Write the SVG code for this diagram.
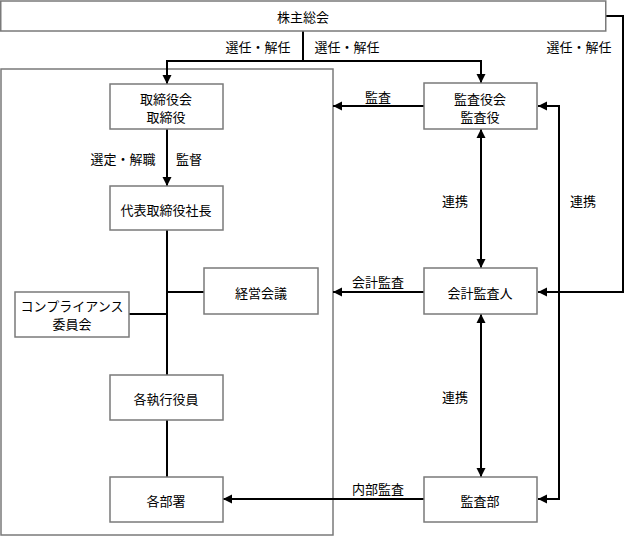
<svg xmlns="http://www.w3.org/2000/svg" width="625" height="538" viewBox="0 0 625 538">
<defs>
<marker id="ah" markerUnits="userSpaceOnUse" markerWidth="10" markerHeight="10" refX="9" refY="4.5" orient="auto-start-reverse" viewBox="0 0 10 9">
<path d="M0,0 L9,4.5 L0,9 z" fill="#000"/>
</marker>
<style>
.box{fill:#fff;stroke:#7a7a7a;stroke-width:1.5}
.frame{fill:none;stroke:#7a7a7a;stroke-width:1.5}
.c{fill:none;stroke:#000;stroke-width:2}
.a{marker-end:url(#ah)}
.b{marker-start:url(#ah);marker-end:url(#ah)}
text{font-family:"Noto Sans CJK JP","Noto Sans CJK SC",sans-serif;font-size:13px;fill:#000;text-anchor:middle;dominant-baseline:central}
</style>
</defs>
<rect class="frame" x="1" y="69" width="332" height="466"/>
<g id="connectors">
<path class="c a" d="M303,31 V61 H167 V84"/>
<path class="c a" d="M303,61 H481 V83"/>
<path class="c a" d="M606,16 H623 V292 H538"/>
<path class="c a" d="M167,129 V186"/>
<path class="c" d="M167,230 V375"/>
<path class="c" d="M167,420 V477"/>
<path class="c" d="M167,292 H204"/>
<path class="c" d="M129,314 H167"/>
<path class="c a" d="M424,106 H333"/>
<path class="c a" d="M424,292 H333"/>
<path class="c a" d="M424,499 H223"/>
<path class="c b" d="M481,129 V268"/>
<path class="c b" d="M481,314 V477"/>
<path class="c b" d="M538,106 H559 V499 H538"/>
<text x="258" y="46">選任・解任</text>
<text x="347" y="46">選任・解任</text>
<text x="579" y="46">選任・解任</text>
<text x="123" y="158">選定・解職</text>
<text x="189" y="158">監督</text>
<text x="378" y="96">監査</text>
<text x="378" y="281">会計監査</text>
<text x="378" y="488">内部監査</text>
<text x="455" y="200">連携</text>
<text x="583" y="200">連携</text>
<text x="455" y="396">連携</text>
</g>
<g id="shareholders"><rect class="box" x="0.75" y="1" width="605" height="30"/><text x="303" y="16">株主総会</text></g>
<g id="board"><rect class="box" x="110" y="84" width="113" height="45"/><text x="166" y="98">取締役会</text><text x="166" y="116">取締役</text></g>
<g id="president"><rect class="box" x="110" y="186" width="113" height="44"/><text x="166" y="209">代表取締役社長</text></g>
<g id="management"><rect class="box" x="204" y="268" width="114" height="46"/><text x="261" y="292">経営会議</text></g>
<g id="compliance"><rect class="box" x="15" y="292" width="114" height="45"/><text x="72" y="305">コンプライアンス</text><text x="72" y="323">委員会</text></g>
<g id="officers"><rect class="box" x="110" y="375" width="113" height="45"/><text x="166" y="398">各執行役員</text></g>
<g id="departments"><rect class="box" x="110" y="477" width="113" height="45"/><text x="166" y="500">各部署</text></g>
<g id="auditors"><rect class="box" x="424" y="83" width="113" height="46"/><text x="480" y="98">監査役会</text><text x="480" y="116">監査役</text></g>
<g id="accounting"><rect class="box" x="424" y="268" width="113" height="46"/><text x="480" y="292">会計監査人</text></g>
<g id="internal"><rect class="box" x="424" y="477" width="113" height="45"/><text x="480" y="500">監査部</text></g>
</svg>
